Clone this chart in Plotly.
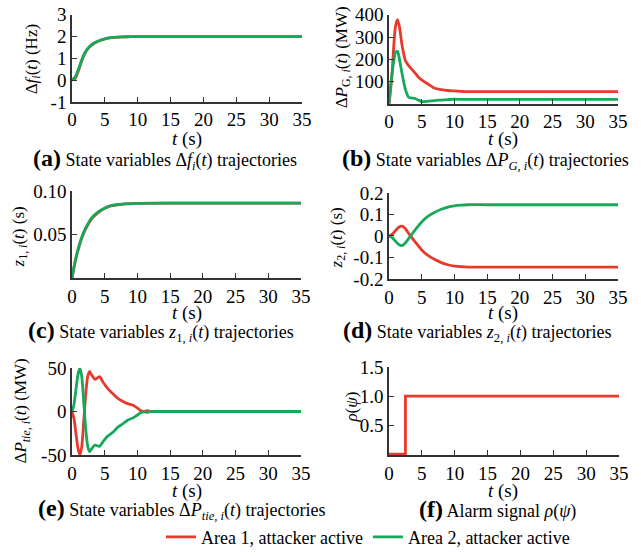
import plotly.graph_objects as go

# ---------------- data ----------------
t_a = [0, 0.5, 1, 1.5, 2, 2.5, 3, 3.5, 4, 5, 6, 7, 8, 9, 10, 15, 20, 25, 30, 35]
df_area1 = [0, 0.08, 0.45, 0.9, 1.25, 1.47, 1.61, 1.71, 1.79, 1.89, 1.95, 1.98, 1.99, 2.0, 2.0, 2.0, 2.0, 2.0, 2.0, 2.0]
df_area2 = [0, 0.15, 0.52, 0.95, 1.28, 1.49, 1.63, 1.73, 1.8, 1.9, 1.95, 1.98, 1.99, 2.0, 2.0, 2.0, 2.0, 2.0, 2.0, 2.0]

t_b = [0, 0.4, 0.8, 1.0, 1.3, 1.6, 2.0, 2.5, 3.0, 3.5, 4, 4.5, 5, 6, 7, 8, 9, 10, 11, 12, 15, 35]
pg_area1 = [0, 110, 290, 350, 378, 345, 262, 195, 172, 155, 138, 120, 108, 88, 70, 64, 60, 58, 56, 55, 55, 55]
pg_area2 = [0, 120, 205, 232, 236, 200, 135, 65, 30, 26, 24, 16, 10, 12, 15, 17, 19, 21, 20, 20, 20, 20]

t_c = [0, 0.5, 1, 1.5, 2, 2.5, 3, 4, 5, 6, 7, 8, 10, 15, 20, 25, 30, 35]
z1_area1 = [0, 0.019, 0.034, 0.046, 0.055, 0.062, 0.068, 0.075, 0.080, 0.083, 0.084, 0.085, 0.0858, 0.086, 0.086, 0.086, 0.086, 0.086]
z1_area2 = [0, 0.020, 0.035, 0.047, 0.056, 0.063, 0.069, 0.076, 0.080, 0.083, 0.0845, 0.085, 0.0858, 0.086, 0.086, 0.086, 0.086, 0.086]

t_d = [0, 0.5, 1, 1.5, 2, 2.5, 3, 3.5, 4, 5, 6, 7, 8, 9, 10, 11, 12, 15, 35]
z2_area1 = [0, 0.008, 0.025, 0.04, 0.045, 0.033, 0.012, -0.008, -0.028, -0.065, -0.092, -0.11, -0.124, -0.134, -0.14, -0.143, -0.145, -0.145, -0.145]
z2_area2 = [0, -0.008, -0.025, -0.04, -0.045, -0.033, -0.012, 0.008, 0.028, 0.065, 0.092, 0.11, 0.124, 0.134, 0.14, 0.143, 0.145, 0.145, 0.145]

t_e = [0, 0.3, 0.6, 0.9, 1.2, 1.5, 1.8, 2.1, 2.4, 2.7, 3.0, 3.5, 4.2, 4.8, 5.5, 6.3, 7, 7.8, 8.5, 9.4, 10, 10.5, 11, 11.5, 12, 13, 15, 35]
ptie_area1 = [0, -8, -25, -42, -50, -40, -10, 20, 40, 46, 42, 37, 40, 33, 26, 20, 15, 11.5, 9, 7, 4, 1, 0, 1, 0, 0, 0, 0]
ptie_area2 = [0, 8, 25, 42, 50, 40, 10, -20, -40, -46, -43, -38.5, -40, -34, -28, -23.5, -18, -14, -10, -7, -4, -1.5, -0.5, -1, 0, 0, 0, 0]

t_f = [0, 2.5, 35]
rho = [0, 1, 1]

x_ticks = [0, 5, 10, 15, 20, 25, 30, 35]
ya_ticks = [-1, 0, 1, 2, 3]
yb_ticks = [100, 200, 300, 400]
yc_ticks = [0.05, 0.10]
yc_text = ["0.05", "0.10"]
yd_ticks = [-0.2, -0.1, 0, 0.1, 0.2]
yd_text = ["-0.2", "-0.1", "0", "0.1", "0.2"]
ye_ticks = [-50, 0, 50]
yf_ticks = [0.5, 1.0, 1.5]
yf_text = ["0.5", "1.0", "1.5"]

series_names = ["Area 1, attacker active", "Area 2, attacker active"]
RED = "#e8392d"
GREEN = "#17a85a"

W, H = 641, 556
FONT = "Liberation Serif, Times New Roman, Times, serif"

def px(x):
    return x / W

def py(y):
    return 1 - y / H

fig = go.Figure()

panels = [
    ((72, 302), (15, 103), [-1, 3]),
    ((389, 618), (15, 105), [0, 400]),
    ((72, 301), (193, 281), [0, 0.1]),
    ((389, 618), (195, 282), [-0.2, 0.2]),
    ((72, 301), (372, 460), [-50, 50]),
    ((389, 619), (371, 460), [-0.015, 1.5]),
]
ytick_specs = [
    (ya_ticks, [str(v) for v in ya_ticks]),
    (yb_ticks, [str(v) for v in yb_ticks]),
    (yc_ticks, yc_text),
    (yd_ticks, yd_text),
    (ye_ticks, [str(v) for v in ye_ticks]),
    (yf_ticks, yf_text),
]

layout = {}
for i, ((x0, x1), (ytop, ybot), yr) in enumerate(panels):
    n = "" if i == 0 else str(i + 1)
    layout["xaxis" + n] = dict(
        domain=[px(x0), px(x1)], range=[0, 35], anchor="y" + n, automargin=False,
        tickvals=x_ticks, ticks="inside", ticklen=5, tickwidth=1.2, tickcolor="#333",
        showline=True, linecolor="#333", linewidth=1.5, showgrid=False, zeroline=False,
        tickfont=dict(family=FONT, size=19, color="black"), fixedrange=True,
    )
    tv, tt = ytick_specs[i]
    layout["yaxis" + n] = dict(
        domain=[py(ybot), py(ytop)], range=yr, anchor="x" + n, automargin=False,
        tickvals=tv, ticktext=tt, ticks="inside", ticklen=5, tickwidth=1.2, tickcolor="#333",
        showline=True, linecolor="#333", linewidth=1.5, showgrid=False, zeroline=False,
        tickfont=dict(family=FONT, size=19, color="black"), fixedrange=True,
    )

LW = 2.8

def add_pair(t, y1, y2, idx, legend=False):
    n = "" if idx == 0 else str(idx + 1)
    fig.add_trace(go.Scatter(x=t, y=y1, mode="lines", line=dict(color=RED, width=LW, shape="spline", smoothing=0.6),
                             xaxis="x" + n, yaxis="y" + n, name=series_names[0], showlegend=legend))
    fig.add_trace(go.Scatter(x=t, y=y2, mode="lines", line=dict(color=GREEN, width=LW, shape="spline", smoothing=0.6),
                             xaxis="x" + n, yaxis="y" + n, name=series_names[1], showlegend=legend))

add_pair(t_a, df_area1, df_area2, 0, legend=True)
add_pair(t_b, pg_area1, pg_area2, 1)
add_pair(t_c, z1_area1, z1_area2, 2)
add_pair(t_d, z2_area1, z2_area2, 3)
add_pair(t_e, ptie_area1, ptie_area2, 4)
fig.add_trace(go.Scatter(x=t_f, y=rho, mode="lines", line=dict(color=RED, width=LW, shape="hv"),
                         xaxis="x6", yaxis="y6", name=series_names[0], showlegend=False))

ann = []
def text(x, y, s, size=19, angle=0):
    ann.append(dict(x=px(x), y=py(y), xref="paper", yref="paper", text=s, showarrow=False,
                    xanchor="center", yanchor="middle", textangle=angle,
                    font=dict(family=FONT, size=size, color="black")))

# x-axis titles
for xc, yc in [(187, 141), (503, 141), (187, 316), (503, 316), (187, 496), (503, 496)]:
    text(xc, yc, "<i>t</i> (s)")

# y-axis titles
text(33, 60, "Δ<i>f<sub>i</sub></i>(<i>t</i>) (Hz)", 17, -90)
text(343, 58, "Δ<i>P</i><sub>G, <i>i</i></sub>(<i>t</i>) (MW)", 17, -90)
text(20, 240, "<i>z</i><sub>1, <i>i</i></sub>(<i>t</i>) (s)", 17, -90)
text(338, 240, "<i>z</i><sub>2, <i>i</i></sub>(<i>t</i>) (s)", 17, -90)
text(22, 416, "Δ<i>P<sub>tie, i</sub></i>(<i>t</i>) (MW)", 17, -90)
text(352, 412, "<i>ρ</i>(<i>ψ</i>)", 17, -90)

B = "<span style='font-size:24px'><b>%s</b></span> "
text(165, 161, B % "(a)" + "State variables Δ<i>f<sub>i</sub></i>(<i>t</i>) trajectories", 18)
text(485, 161, B % "(b)" + "State variables Δ<i>P<sub>G, i</sub></i>(<i>t</i>) trajectories", 18)
text(161, 335, B % "(c)" + "State variables <i>z</i><sub>1, <i>i</i></sub>(<i>t</i>) trajectories", 18)
text(477, 335, B % "(d)" + "State variables <i>z</i><sub>2, <i>i</i></sub>(<i>t</i>) trajectories", 18)
text(182, 515, B % "(e)" + "State variables Δ<i>P<sub>tie, i</sub></i>(<i>t</i>) trajectories", 18)
text(497, 515, B % "(f)" + "Alarm signal <i>ρ</i>(<i>ψ</i>)", 18)

fig.update_layout(
    **layout,
    template="none",
    annotations=ann,
    width=W, height=H, autosize=False,
    margin=dict(l=0, r=0, t=0, b=0, pad=0),
    paper_bgcolor="white", plot_bgcolor="white",
    font=dict(family=FONT, size=16, color="black"),
    showlegend=True,
    legend=dict(orientation="h", x=px(368), y=py(543), xanchor="center", yanchor="middle",
                font=dict(family=FONT, size=18, color="black"), bgcolor="rgba(0,0,0,0)",
                itemwidth=30, tracegroupgap=0),
)

fig.write_html("out.html")
